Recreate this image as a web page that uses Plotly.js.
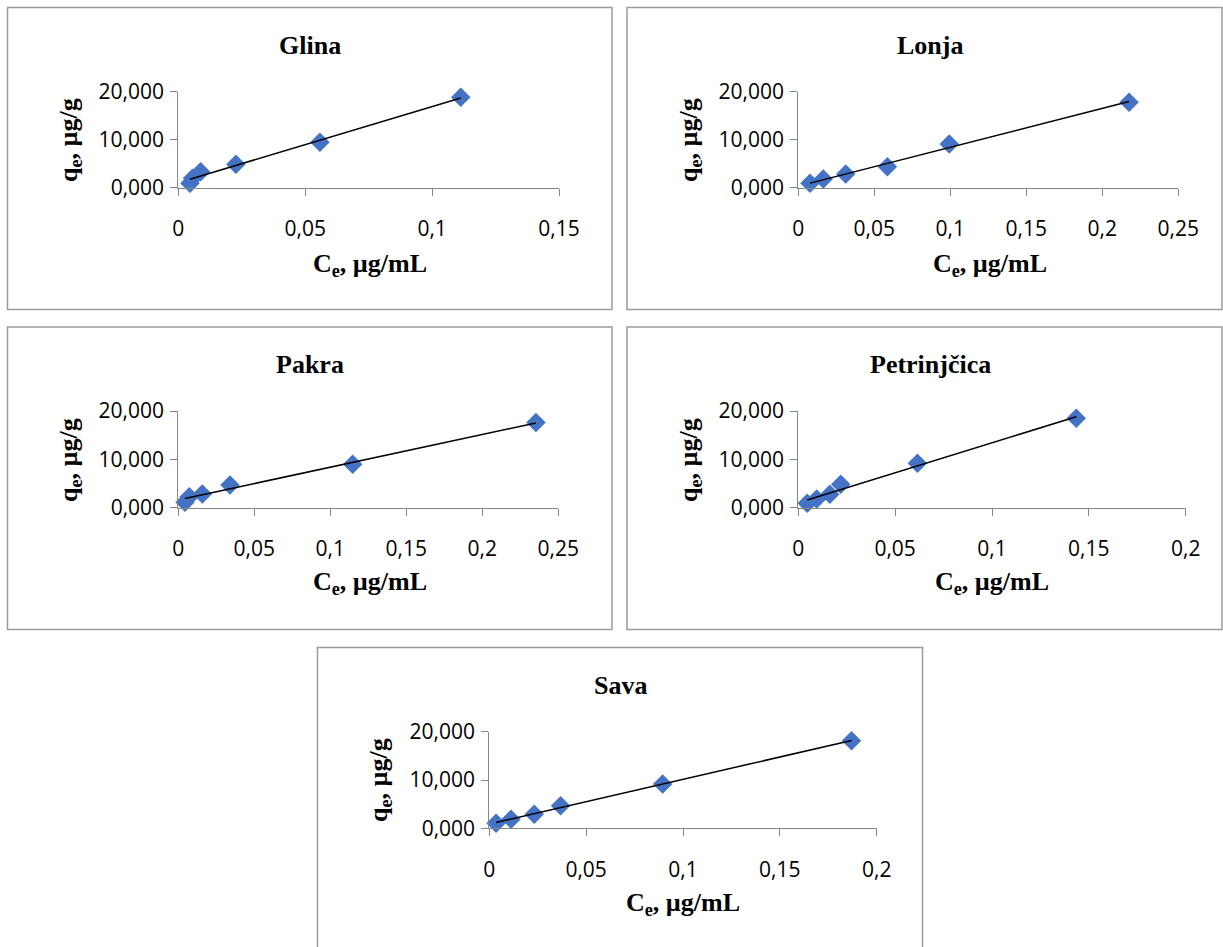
<!DOCTYPE html>
<html>
<head>
<meta charset="utf-8">
<script src="https://cdn.plot.ly/plotly-3.0.1.min.js"></script>
<style>html,body{margin:0;padding:0;background:#fff;}#chart{width:1223px;height:947px;}</style>
</head>
<body>
<div id="chart"></div>
<script>
// Panel names
const panelNames = ["Glina", "Lonja", "Pakra", "Petrinjčica", "Sava"];

// Ce (µg/mL) values per river
const ceGlina = [0.0046, 0.0056, 0.0088, 0.0227, 0.0558, 0.1113];
const ceLonja = [0.0077, 0.0164, 0.0312, 0.0586, 0.0993, 0.2176];
const cePakra = [0.0044, 0.0072, 0.0158, 0.0340, 0.1147, 0.2353];
const cePetrinjcica = [0.0046, 0.0095, 0.0163, 0.0219, 0.0615, 0.1435];
const ceSava = [0.0035, 0.0112, 0.0232, 0.0368, 0.0895, 0.1870];

// qe (µg/g) values per river
const qeGlina = [917, 1960, 3330, 4875, 9460, 18830];
const qeLonja = [917, 1810, 2850, 4375, 9100, 17790];
const qePakra = [1110, 2280, 2840, 4700, 8980, 17600];
const qePetrinjcica = [900, 1800, 2770, 4840, 9190, 18500];
const qeSava = [1030, 1860, 2900, 4680, 9170, 18130];

// Axis ranges and tick labels
const xMax = [0.15, 0.25, 0.25, 0.2, 0.2];
const xTickStep = 0.05;
const yTickVals = [0, 10000, 20000];
const yTickText = ["0,000", "10,000", "20,000"];

const ceAll = [ceGlina, ceLonja, cePakra, cePetrinjcica, ceSava];
const qeAll = [qeGlina, qeLonja, qePakra, qePetrinjcica, qeSava];

const W = 1223, H = 947;
// plot areas in pixels: [x0, x1, yTop, yBottom]
const areas = [
  [178.3, 559, 91.7, 187.7],
  [798.3, 1178.3, 91.7, 187.7],
  [178.3, 558.3, 411, 507.7],
  [798.3, 1185.7, 411, 507.7],
  [489.3, 876.7, 731.7, 828.3]
];
// panel frames [x0, x1, y0, y1] in pixels
const frames = [
  [7.5, 612, 7.5, 309.5],
  [627, 1222, 7.5, 309.5],
  [7.5, 612, 327, 629.5],
  [627, 1222, 327, 629.5],
  [317.5, 922.5, 647.5, 960]
];
const titlePos = [[310, 45], [930, 45], [310, 364], [930, 364], [620, 685]];
const yTitlePos = [[70, 140], [690, 140], [70, 460], [690, 460], [380, 780]];
const xTitlePos = [[370, 265], [990, 265], [370, 583], [992, 583], [683, 904]];

function fmtComma(v) {
  return String(Math.round(v * 100) / 100).replace(".", ",");
}

const traces = [];
const layout = {
  width: W, height: H,
  margin: {l: 0, r: 0, t: 0, b: 0},
  paper_bgcolor: "#ffffff",
  plot_bgcolor: "rgba(0,0,0,0)",
  showlegend: false,
  font: {family: "Open Sans, sans-serif", size: 20, color: "#000"},
  annotations: [],
  shapes: []
};

for (let i = 0; i < 5; i++) {
  const xs = ceAll[i], ys = qeAll[i];
  const ax = i === 0 ? "" : String(i + 1);
  // least-squares trendline
  const n = xs.length;
  const mx = xs.reduce((a, b) => a + b, 0) / n;
  const my = ys.reduce((a, b) => a + b, 0) / n;
  let sxy = 0, sxx = 0;
  for (let k = 0; k < n; k++) { sxy += (xs[k] - mx) * (ys[k] - my); sxx += (xs[k] - mx) * (xs[k] - mx); }
  const slope = sxy / sxx, icpt = my - slope * mx;
  const xmin = Math.min(...xs), xmax = Math.max(...xs);
  traces.push({
    x: xs, y: ys, type: "scatter", mode: "markers",
    xaxis: "x" + ax, yaxis: "y" + ax,
    marker: {symbol: "diamond", size: 15, color: "#4472C4"},
    cliponaxis: false, hoverinfo: "x+y"
  });
  traces.push({
    x: [xmin, xmax], y: [icpt + slope * xmin, icpt + slope * xmax],
    type: "scatter", mode: "lines",
    xaxis: "x" + ax, yaxis: "y" + ax,
    line: {color: "#000", width: 1.5},
    cliponaxis: false, hoverinfo: "skip"
  });
  const a = areas[i];
  const xTickVals = [];
  for (let t = 0; t <= xMax[i] + 1e-9; t += xTickStep) xTickVals.push(Math.round(t * 100) / 100);
  layout["xaxis" + ax] = {
    domain: [a[0] / W, a[1] / W],
    range: [0, xMax[i]],
    anchor: "y" + ax,
    tickvals: xTickVals,
    ticktext: xTickVals.map(fmtComma),
    ticks: "outside", ticklen: 7, tickcolor: "#868686", tickwidth: 1,
    showline: true, linecolor: "#868686", linewidth: 1,
    showgrid: false, zeroline: false,
    ticklabelstandoff: 15,
    tickfont: {family: "Open Sans, sans-serif", size: 21, color: "#000"},
    fixedrange: true
  };
  layout["yaxis" + ax] = {
    domain: [1 - a[3] / H, 1 - a[2] / H],
    range: [0, 20000],
    anchor: "x" + ax,
    tickvals: yTickVals,
    ticktext: yTickText,
    ticks: "outside", ticklen: 7, tickcolor: "#868686", tickwidth: 1,
    showline: true, linecolor: "#868686", linewidth: 1,
    showgrid: false, zeroline: false,
    ticklabelstandoff: 2,
    tickfont: {family: "Open Sans, sans-serif", size: 21, color: "#000"},
    fixedrange: true
  };
  const f = frames[i];
  layout.shapes.push({
    type: "rect", xref: "paper", yref: "paper",
    x0: f[0] / W, x1: f[1] / W, y0: 1 - f[3] / H, y1: 1 - f[2] / H,
    line: {color: "#9a9a9a", width: 1.5}, fillcolor: "rgba(0,0,0,0)", layer: "below"
  });
  layout.annotations.push({
    text: "<b>" + panelNames[i] + "</b>", xref: "paper", yref: "paper",
    x: titlePos[i][0] / W, y: 1 - titlePos[i][1] / H, xanchor: "center", yanchor: "middle",
    showarrow: false, font: {family: "Liberation Serif, Times New Roman, serif", size: 26, color: "#000"}
  });
  layout.annotations.push({
    text: "<b>q<sub>e</sub>, µg/g</b>", xref: "paper", yref: "paper", textangle: -90,
    x: yTitlePos[i][0] / W, y: 1 - yTitlePos[i][1] / H, xanchor: "center", yanchor: "middle",
    showarrow: false, font: {family: "Liberation Serif, Times New Roman, serif", size: 26, color: "#000"}
  });
  layout.annotations.push({
    text: "<b>C<sub>e</sub>, µg/mL</b>", xref: "paper", yref: "paper",
    x: xTitlePos[i][0] / W, y: 1 - xTitlePos[i][1] / H, xanchor: "center", yanchor: "middle",
    showarrow: false, font: {family: "Liberation Serif, Times New Roman, serif", size: 26, color: "#000"}
  });
}

Plotly.newPlot("chart", traces, layout, {staticPlot: true, displayModeBar: false});
</script>
</body>
</html>
